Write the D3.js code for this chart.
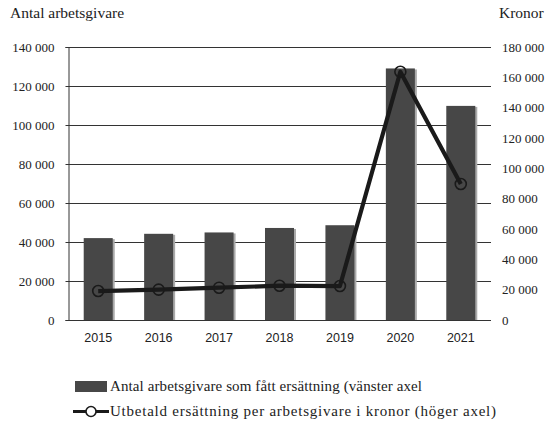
<!DOCTYPE html>
<html>
<head>
<meta charset="utf-8">
<script src="https://cdn.jsdelivr.net/npm/d3@7"></script>
<style>
  body { margin: 0; background: #fff; }
  svg text { font-family: "Liberation Serif", "DejaVu Serif", serif; fill: #222; }
</style>
</head>
<body>
<div id="chart"></div>
<script>
// data
const years = ["2015", "2016", "2017", "2018", "2019", "2020", "2021"];
const employers = [42000, 44200, 44900, 47200, 48600, 129000, 109800];
const payPerEmployer = [19100, 20000, 21300, 22600, 22400, 163700, 89700];
const leftTicks = [0, 20000, 40000, 60000, 80000, 100000, 120000, 140000];
const rightTicks = [0, 20000, 40000, 60000, 80000, 100000, 120000, 140000, 160000, 180000];

const W = 553, H = 424;
const margin = {top: 47, right: 62, bottom: 104, left: 68};
const plotW = W - margin.left - margin.right;
const plotH = H - margin.top - margin.bottom;

const svg = d3.select("#chart").append("svg")
  .attr("width", W)
  .attr("height", H);

const fmt = d => d3.format(",")(d).replace(/,/g, " ");

const x = d3.scaleBand()
  .domain(years)
  .range([margin.left, margin.left + plotW])
  .paddingInner(0.52)
  .paddingOuter(0.26);

const yL = d3.scaleLinear()
  .domain([0, 140000])
  .range([margin.top + plotH, margin.top]);

const yR = d3.scaleLinear()
  .domain([0, 180000])
  .range([margin.top + plotH, margin.top]);

// gridlines
svg.append("g")
  .selectAll("line")
  .data(leftTicks.slice(1))
  .enter()
  .append("line")
  .attr("x1", margin.left)
  .attr("x2", margin.left + plotW)
  .attr("y1", d => Math.round(yL(d)) + 0.5)
  .attr("y2", d => Math.round(yL(d)) + 0.5)
  .attr("stroke", "#333")
  .attr("stroke-width", 1);

// bars with a light shadow on the right
const barG = svg.append("g");
barG.selectAll(".shadow")
  .data(employers)
  .enter()
  .append("rect")
  .attr("class", "shadow")
  .attr("x", (d, i) => x(years[i]) + 2)
  .attr("y", d => yL(d) + 1)
  .attr("width", x.bandwidth())
  .attr("height", d => yL(0) - yL(d) - 1)
  .attr("fill", "#aaa");

barG.selectAll(".bar")
  .data(employers)
  .enter()
  .append("rect")
  .attr("class", "bar")
  .attr("x", (d, i) => x(years[i]))
  .attr("y", d => yL(d))
  .attr("width", x.bandwidth())
  .attr("height", d => yL(0) - yL(d))
  .attr("fill", "#474747");

// left axis
const axL = svg.append("g")
  .attr("transform", `translate(${margin.left + 0.5},0)`)
  .call(d3.axisLeft(yL).tickValues(leftTicks).tickSize(3).tickPadding(11).tickFormat(fmt));
axL.select(".domain").attr("stroke", "#333");
axL.selectAll(".tick line").attr("stroke", "#333");
axL.selectAll("text")
  .style("font-family", "'Liberation Serif', 'DejaVu Serif', serif")
  .style("font-size", "13px")
  .attr("fill", "#222");

// right axis labels only
const axR = svg.append("g")
  .attr("transform", `translate(${margin.left + plotW},0)`)
  .call(d3.axisRight(yR).tickValues(rightTicks).tickSize(0).tickPadding(11).tickFormat(fmt));
axR.select(".domain").remove();
axR.selectAll("text")
  .style("font-family", "'Liberation Serif', 'DejaVu Serif', serif")
  .style("font-size", "13px")
  .attr("fill", "#222");

// bottom axis
const axB = svg.append("g")
  .attr("transform", `translate(0,${margin.top + plotH + 0.5})`)
  .call(d3.axisBottom(x).tickSize(0).tickPadding(13));
axB.select(".domain").attr("stroke", "#333").attr("d", `M${margin.left},0H${margin.left + plotW}`);
axB.selectAll("text")
  .style("font-family", "'Liberation Sans', sans-serif")
  .style("font-size", "12.5px")
  .attr("fill", "#222");

// line series on right axis
const line = d3.line()
  .x((d, i) => x(years[i]) + x.bandwidth() / 2)
  .y(d => yR(d));

svg.append("path")
  .datum(payPerEmployer)
  .attr("d", line)
  .attr("fill", "none")
  .attr("stroke", "#1a1a1a")
  .attr("stroke-width", 4.2)
  .attr("stroke-linejoin", "round");

svg.selectAll(".dot")
  .data(payPerEmployer)
  .enter()
  .append("circle")
  .attr("class", "dot")
  .attr("cx", (d, i) => x(years[i]) + x.bandwidth() / 2)
  .attr("cy", d => yR(d))
  .attr("r", 5.5)
  .attr("fill", "none")
  .attr("stroke", "#1a1a1a")
  .attr("stroke-width", 1.6);

// axis titles
svg.append("text")
  .attr("x", 10)
  .attr("y", 18)
  .attr("font-size", "15.5px")
  .text("Antal arbetsgivare");

svg.append("text")
  .attr("x", 499)
  .attr("y", 18)
  .attr("font-size", "15.5px")
  .text("Kronor");

// legend
const leg = svg.append("g");
leg.append("rect")
  .attr("x", 75)
  .attr("y", 381)
  .attr("width", 32)
  .attr("height", 11)
  .attr("fill", "#474747");
leg.append("text")
  .attr("x", 110)
  .attr("y", 391)
  .attr("font-size", "15px")
  .attr("textLength", 312)
  .attr("lengthAdjust", "spacing")
  .text("Antal arbetsgivare som fått ersättning (vänster axel");

leg.append("line")
  .attr("x1", 73)
  .attr("x2", 109)
  .attr("y1", 411.5)
  .attr("y2", 411.5)
  .attr("stroke", "#1a1a1a")
  .attr("stroke-width", 3);
leg.append("circle")
  .attr("cx", 91)
  .attr("cy", 411.5)
  .attr("r", 5)
  .attr("fill", "#fff")
  .attr("stroke", "#1a1a1a")
  .attr("stroke-width", 1.6);
leg.append("text")
  .attr("x", 110)
  .attr("y", 416)
  .attr("font-size", "15px")
  .attr("textLength", 386)
  .attr("lengthAdjust", "spacing")
  .text("Utbetald ersättning per arbetsgivare i kronor (höger axel)");
</script>
</body>
</html>
